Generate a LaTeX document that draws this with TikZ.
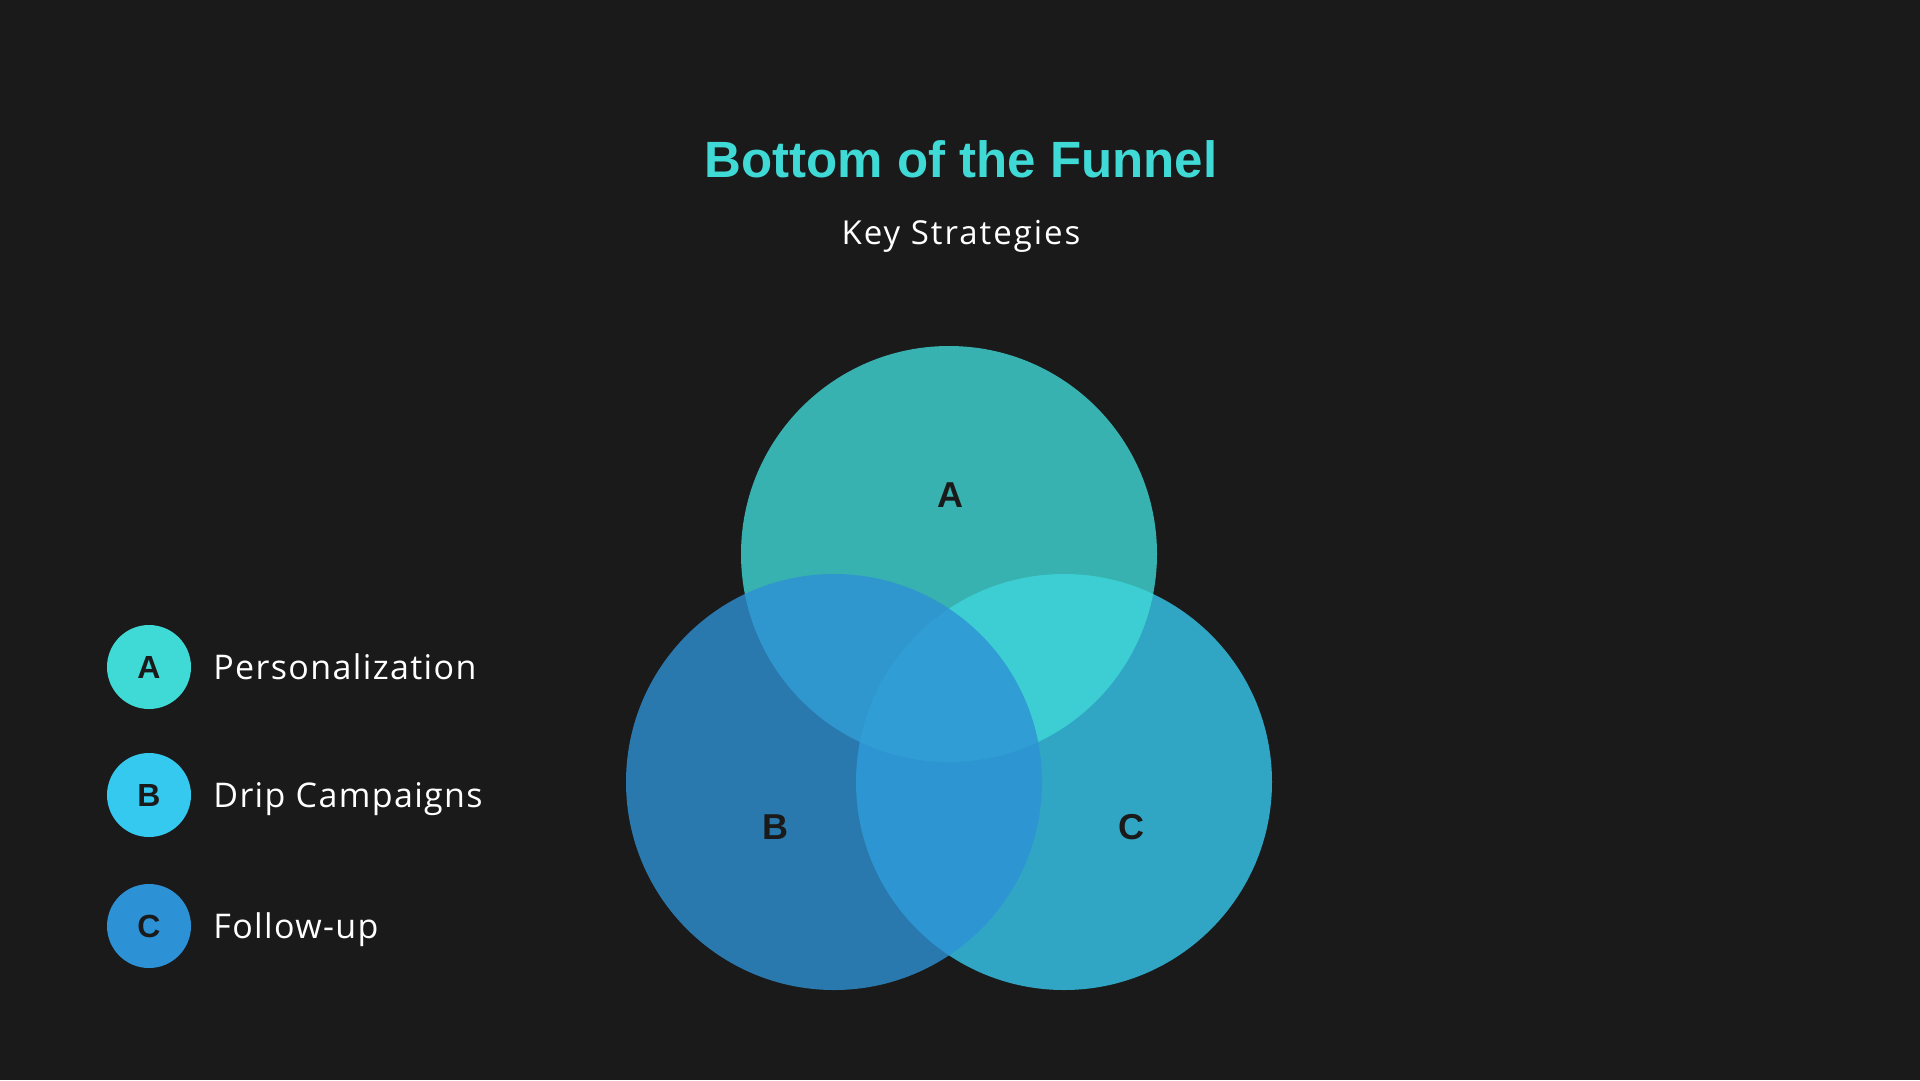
\documentclass[tikz,border=0pt]{standalone}
\usepackage{fontspec}
\setmainfont{Open Sans}[LetterSpace=4]
\newfontfamily\headfont{Liberation Sans}
\newfontfamily\subfont{Open Sans}[LetterSpace=6]
\usepackage{tikz}
\usetikzlibrary{positioning}
\definecolor{bgdark}{HTML}{1A1A1A}
\definecolor{inkdark}{HTML}{1A1A1A}
\definecolor{accentA}{HTML}{3FD9D6}
\definecolor{accentB}{HTML}{36C9EF}
\definecolor{accentC}{HTML}{2D91D5}
\tikzset{
    headline/.style={font=\headfont\bfseries\fontsize{51}{56}\selectfont, text=accentA,
                     inner sep=0pt, text height=36.5pt, text depth=0pt},
    subline/.style={font=\subfont\fontsize{33}{38}\selectfont, text=white,
                    inner sep=0pt, text height=23.5pt, text depth=0pt},
    vennset/.style={circle, minimum size=416pt, inner sep=0pt, fill opacity=0.8},
    vennlabel/.style={font=\headfont\bfseries\fontsize{36}{40}\selectfont, text=inkdark,
                      inner sep=0pt, text height=26pt, text depth=0pt},
    legenddot/.style={circle, minimum size=84pt, inner sep=0pt, text=inkdark,
                      font=\headfont\bfseries\fontsize{32}{34}\selectfont},
    legendtext/.style={font=\fontsize{34}{38}\selectfont, text=white,
                       inner sep=0pt, text height=24pt, text depth=0pt},
}
\begin{document}
\begin{tikzpicture}[x=1pt, y=-1pt]
        % Background
        \fill[bgdark] (0,0) rectangle (1920,1080);

        % Heading
        \node [headline] (title)    at (961,159) {Bottom of the Funnel};
        \node [subline]  (subtitle) at (961,233) {Key Strategies};

        % Venn sets
        \node [vennset, fill=accentB] (vennC) at (1064,782) {};
        \node [vennset, fill=accentA] (vennA) at (949,554)  {};
        \node [vennset, fill=accentC] (vennB) at (834,782)  {};

        % Set labels
        \node [vennlabel] (labA) at (950,494)  {A};
        \node [vennlabel] (labB) at (775,826)  {B};
        \node [vennlabel] (labC) at (1131,826) {C};

        % Legend
        \node [legenddot, fill=accentA] (dotA) at (149,667) {A};
        \node [legenddot, fill=accentB] (dotB) at (149,795) {B};
        \node [legenddot, fill=accentC] (dotC) at (149,926) {C};
        \node [legendtext, right=22pt of dotA] (txtA) {Personalization};
        \node [legendtext, right=22pt of dotB] (txtB) {Drip Campaigns};
        \node [legendtext, right=22pt of dotC] (txtC) {Follow-up};
    \end{tikzpicture}
\end{document}
